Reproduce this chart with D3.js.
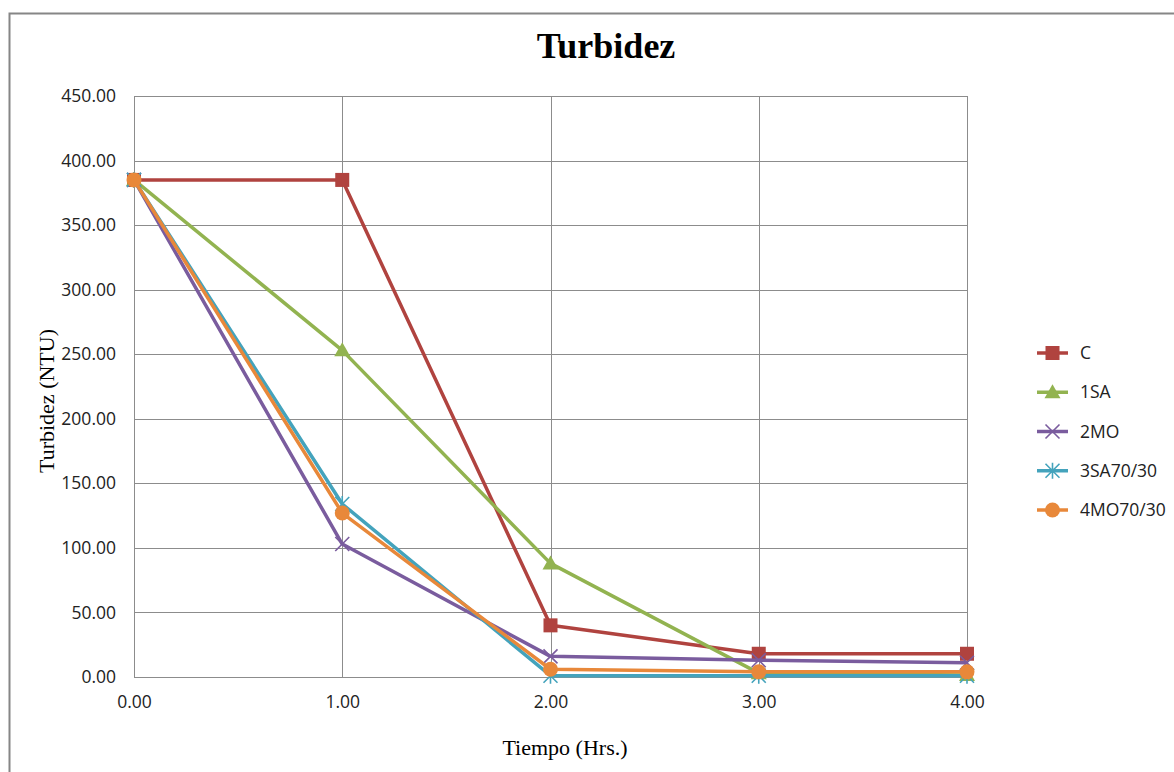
<!DOCTYPE html>
<html>
<head>
<meta charset="utf-8">
<script src="https://cdn.jsdelivr.net/npm/d3@7/dist/d3.min.js"></script>
<style>
  html, body { margin: 0; padding: 0; background: #fff; }
  svg { display: block; }
</style>
</head>
<body>
<svg id="chart" width="1174" height="772"></svg>
<script>
// Turbidity readings (NTU) per hour for each treatment
const hours = [0, 1, 2, 3, 4];
const serieC = [385, 385, 40, 18, 18];
const serie1SA = [385, 253, 88, 3, 1.5];
const serie2MO = [385, 103, 16, 13, 11];
const serie3SA = [385, 134, 1, 1, 1];
const serie4MO = [385, 127, 6, 4, 4];
const seriesNames = ["C", "1SA", "2MO", "3SA70/30", "4MO70/30"];
const yTicks = [0, 50, 100, 150, 200, 250, 300, 350, 400, 450];
const xTicks = [0, 1, 2, 3, 4];

const seriesValues = [serieC, serie1SA, serie2MO, serie3SA, serie4MO];
const colors = ["#B0433F", "#92B350", "#7A5C9E", "#44A3BC", "#E8883A"];
const markerKinds = ["square", "triangle", "x", "star", "circle"];

const svg = d3.select("#chart");

// outer chart frame
svg.append("rect")
  .attr("x", 9.5).attr("y", 13.5)
  .attr("width", 1174).attr("height", 772)
  .attr("fill", "#fff").attr("stroke", "#868686").attr("stroke-width", 2);

const plot = { left: 134, right: 967, top: 96, bottom: 677 };

const x = d3.scaleLinear().domain([0, 4]).range([plot.left, plot.right]);
const y = d3.scaleLinear().domain([0, 450]).range([plot.bottom, plot.top]);

// gridlines
const grid = svg.append("g");
grid.selectAll("line.h").data(yTicks).join("line")
  .attr("x1", plot.left).attr("x2", plot.right)
  .attr("y1", d => Math.round(y(d)) + 0.5).attr("y2", d => Math.round(y(d)) + 0.5)
  .attr("stroke", "#8c8c8c").attr("stroke-width", 1);
grid.selectAll("line.v").data(xTicks).join("line")
  .attr("y1", plot.top).attr("y2", plot.bottom)
  .attr("x1", d => Math.round(x(d)) + 0.5).attr("x2", d => Math.round(x(d)) + 0.5)
  .attr("stroke", "#8c8c8c").attr("stroke-width", 1);

// axes
const yAxis = d3.axisLeft(y).tickValues(yTicks).tickFormat(d3.format(".2f")).tickSize(0).tickPadding(18);
const xAxis = d3.axisBottom(x).tickValues(xTicks).tickFormat(d3.format(".2f")).tickSize(0).tickPadding(19);

const gy = svg.append("g").attr("transform", `translate(${plot.left},0)`).call(yAxis);
const gx = svg.append("g").attr("transform", `translate(0,${plot.bottom})`).call(xAxis);
[gx, gy].forEach(g => {
  g.select(".domain").attr("stroke", "#8c8c8c");
  g.selectAll("text").attr("font-family", "'Open Sans', sans-serif")
    .attr("font-size", 17.5).attr("fill", "#222");
});

// titles
svg.append("text").attr("x", 606).attr("y", 58)
  .attr("text-anchor", "middle")
  .attr("font-family", "'Liberation Serif', serif")
  .attr("font-weight", "bold").attr("font-size", 36)
  .text("Turbidez");

svg.append("text").attr("x", 565).attr("y", 755)
  .attr("text-anchor", "middle")
  .attr("font-family", "'Liberation Serif', serif")
  .attr("font-size", 22)
  .text("Tiempo (Hrs.)");

svg.append("text")
  .attr("transform", "translate(54,401) rotate(-90)")
  .attr("text-anchor", "middle")
  .attr("font-family", "'Liberation Serif', serif")
  .attr("font-size", 22)
  .text("Turbidez (NTU)");

// marker drawing
function drawMarker(g, kind, color, cx, cy) {
  if (kind === "square") {
    g.append("rect").attr("x", cx - 7).attr("y", cy - 7).attr("width", 14).attr("height", 14)
      .attr("fill", color);
  } else if (kind === "triangle") {
    g.append("path").attr("d", `M${cx},${cy - 8} L${cx + 8},${cy + 6} L${cx - 8},${cy + 6} Z`)
      .attr("fill", color);
  } else if (kind === "x") {
    g.append("path").attr("d", `M${cx - 7},${cy - 7} L${cx + 7},${cy + 7} M${cx - 7},${cy + 7} L${cx + 7},${cy - 7}`)
      .attr("stroke", color).attr("stroke-width", 1.6).attr("fill", "none");
  } else if (kind === "star") {
    g.append("path").attr("d",
      `M${cx - 7},${cy - 7} L${cx + 7},${cy + 7} M${cx - 7},${cy + 7} L${cx + 7},${cy - 7} M${cx},${cy - 8} L${cx},${cy + 8}`)
      .attr("stroke", color).attr("stroke-width", 1.6).attr("fill", "none");
  } else if (kind === "circle") {
    g.append("circle").attr("cx", cx).attr("cy", cy).attr("r", 7.5).attr("fill", color);
  }
}

const line = d3.line().x((d, i) => x(hours[i])).y(d => y(d));

seriesValues.forEach((vals, si) => {
  const g = svg.append("g");
  g.append("path").datum(vals).attr("d", line)
    .attr("fill", "none").attr("stroke", colors[si])
    .attr("stroke-width", 3.5).attr("stroke-linejoin", "round");
  vals.forEach((v, i) => drawMarker(g, markerKinds[si], colors[si], x(hours[i]), y(v)));
});

// legend
const legendY = d3.scalePoint().domain(seriesNames).range([353, 510]);
seriesNames.forEach((name, si) => {
  const g = svg.append("g");
  const ly = legendY(name);
  g.append("line").attr("x1", 1037).attr("x2", 1068).attr("y1", ly).attr("y2", ly)
    .attr("stroke", colors[si]).attr("stroke-width", 3.5);
  drawMarker(g, markerKinds[si], colors[si], 1052.5, ly);
  g.append("text").attr("x", 1080).attr("y", ly + 6)
    .attr("font-family", "'Open Sans', sans-serif").attr("font-size", 17.5).attr("fill", "#222")
    .text(name);
});
</script>
</body>
</html>
